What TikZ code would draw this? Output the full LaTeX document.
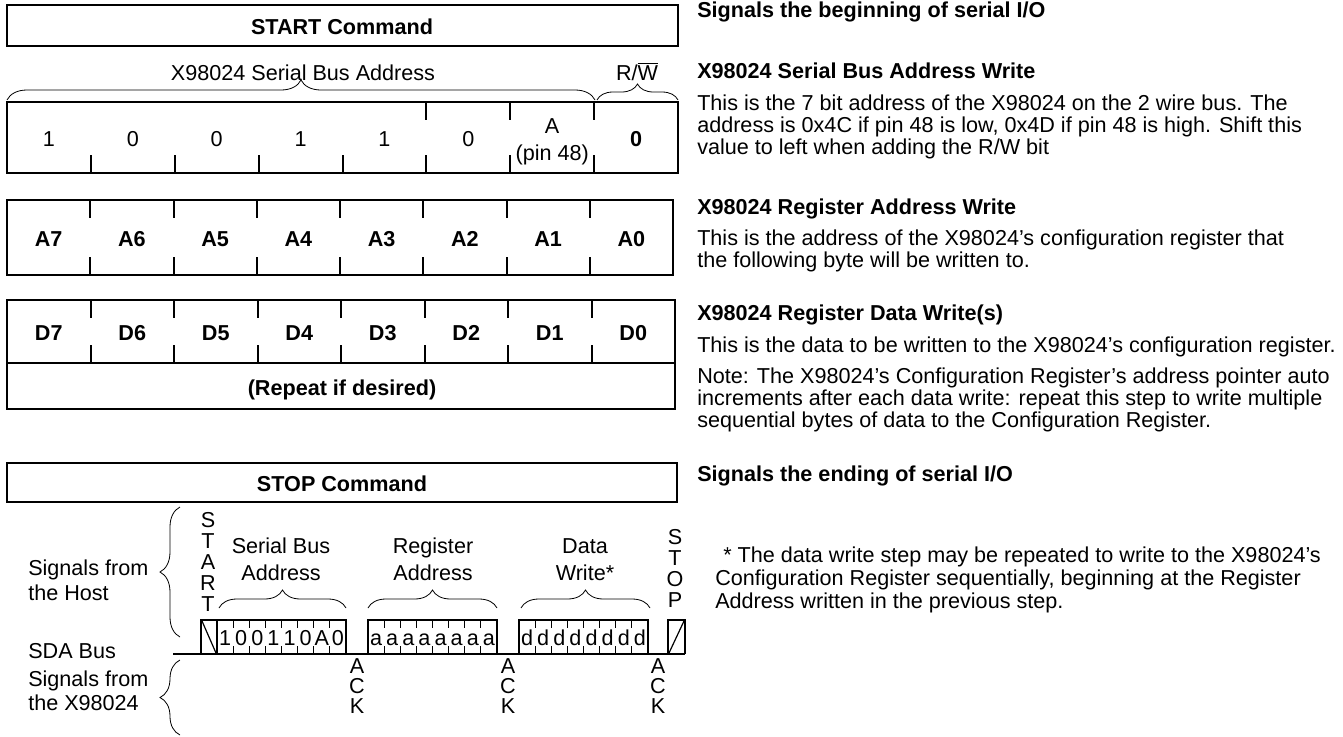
\documentclass[tikz,border=0pt]{standalone}
\usepackage{fontspec}
\setmainfont{Liberation Sans}
\usetikzlibrary{decorations.pathreplacing}
\newcommand{\fsz}{\fontsize{16.2}{16.5}\selectfont}
\begin{document}
\begin{tikzpicture}[x=0.75pt,y=-0.75pt,
  box/.style={line width=2.2pt},
  tk/.style={line width=1.5pt},
  stk/.style={line width=0.8pt},
  t/.style={font=\fsz, inner sep=0pt, anchor=base},
  tb/.style={font=\fsz\bfseries, inner sep=0pt, anchor=base},
  tl/.style={font=\fsz, inner sep=0pt, anchor=base west},
  tlb/.style={font=\fsz\bfseries, inner sep=0pt, anchor=base west},
  brc/.style={decorate, decoration={brace, amplitude=#1}, line width=0.6pt}]
\useasboundingbox (0,0) rectangle (1343,736);

% ---- START box
\draw[box] (7,5) rectangle (678,46);
\node[tb] (startcmd) at (342,34) {START Command};

% ---- address header
\node[t] (sbaddr) at (303,80) {X98024 Serial Bus Address};
\node[t] (rw) at (637,80) {R/$\overline{\mbox{W}}$};
\draw[brc=15pt] (7,100) -- (595,100);
\draw[brc=12pt] (597,100) -- (678,100);

% ---- bits box
\draw[box] (7,102) rectangle (678,173);
\foreach \i in {1,...,7} \draw[tk] ({7+83.875*\i},173) -- ++(0,-18);
\foreach \i in {5,6,7} \draw[tk] ({7+83.875*\i},102) -- ++(0,18);
\foreach \v [count=\i from 0] in {1,0,0,1,1,0}
  \node[t] (bit\i) at ({7+83.875*(\i+0.5)},146) {\v};
\node[t] (bitA) at ({7+83.875*6.5},133) {A};
\node[t] (pin) at ({7+83.875*6.5},160) {(pin 48)};
\node[tb] (bitrw) at ({7+83.875*7.5},146) {0};

% ---- register address box
\draw[box] (7,200) rectangle (673,275);
\foreach \i in {1,...,7} {
  \draw[tk] ({7+83.25*\i},200) -- ++(0,18);
  \draw[tk] ({7+83.25*\i},275) -- ++(0,-18);
}
\foreach \v [count=\i from 0] in {A7,A6,A5,A4,A3,A2,A1,A0}
  \node[tb] (ra\i) at ({7+83.25*(\i+0.5)},246) {\v};

% ---- data box
\draw[box] (7,300) rectangle (675,409);
\draw[box] (7,363) -- (675,363);
\foreach \i in {1,...,7} {
  \draw[tk] ({7+83.5*\i},300) -- ++(0,18);
  \draw[tk] ({7+83.5*\i},363) -- ++(0,-18);
}
\foreach \v [count=\i from 0] in {D7,D6,D5,D4,D3,D2,D1,D0}
  \node[tb] (rd\i) at ({7+83.5*(\i+0.5)},340) {\v};
\node[tb] (repeat) at (342,395) {(Repeat if desired)};

% ---- STOP box
\draw[box] (7,463) rectangle (677,502);
\node[tb] (stopcmd) at (342,491) {STOP Command};

% ---- right column
\node[tlb] (h1) at (697,17.5) {Signals the beginning of serial I/O};
\node[tlb] (h2) at (697,78) {X98024 Serial Bus Address Write};
\node[tl] (p2a) at (697,110) {This is the 7 bit address of the X98024 on the 2 wire bus. The};
\node[tl] (p2b) at (697,132) {address is 0x4C if pin 48 is low, 0x4D if pin 48 is high. Shift this};
\node[tl] (p2c) at (697,154) {value to left when adding the R/W bit};
\node[tlb] (h3) at (697,214) {X98024 Register Address Write};
\node[tl] (p3a) at (697,245) {This is the address of the X98024’s configuration register that};
\node[tl] (p3b) at (697,267) {the following byte will be written to.};
\node[tlb] (h4) at (697,320) {X98024 Register Data Write(s)};
\node[tl] (p4a) at (697,352) {This is the data to be written to the X98024’s configuration register.};
\node[tl] (p4b) at (697,383) {Note: The X98024’s Configuration Register’s address pointer auto};
\node[tl] (p4c) at (697,405) {increments after each data write: repeat this step to write multiple};
\node[tl] (p4d) at (697,427) {sequential bytes of data to the Configuration Register.};
\node[tlb] (h5) at (697,481) {Signals the ending of serial I/O};
\node[tl] (f1) at (723,562) {* The data write step may be repeated to write to the X98024’s};
\node[tl] (f2) at (715,585) {Configuration Register sequentially, beginning at the Register};
\node[tl] (f3) at (715,608) {Address written in the previous step.};

% ---- timing diagram: left labels
\node[tl] (host1) at (28,575) {Signals from};
\node[tl] (host2) at (28,600) {the Host};
\node[tl] (sda) at (28,658) {SDA Bus};
\node[tl] (dev1) at (28,686) {Signals from};
\node[tl] (dev2) at (28,710) {the X98024};
\draw[brc=15pt] (180,637) -- (180,507);
\draw[brc=15pt] (180,735) -- (180,660);

% START / STOP letters
\foreach \c [count=\i from 0] in {S,T,A,R,T}
  \node[t] (st\i) at (208,{527+21*\i}) {\c};
\foreach \c [count=\i from 0] in {S,T,O,P}
  \node[t] (sp\i) at (675,{544+21*\i}) {\c};

% bus line and boxes
\draw[box] (173,654) -- (685,654);
\draw[box] (201,654) -- (201,620) -- (217,620) -- (217,654);
\draw[line width=0.9pt] (202,621) -- (216,653);
\draw[box] (217,620) -- (346,620) -- (346,654);
\draw[box] (368,654) -- (368,620) -- (497,620) -- (497,654);
\draw[box] (519,654) -- (519,620) -- (648,620) -- (648,654);
\draw[box] (668,654) -- (668,620) -- (685,620) -- (685,654);
\draw[line width=0.9pt] (669,653) -- (684,621);

\foreach \x/\nm in {217/sa,368/ra,519/da} {
  \foreach \i in {1,...,7} {
    \draw[stk] ({\x+16.125*\i},620) -- ++(0,8);
    \draw[stk] ({\x+16.125*\i},654) -- ++(0,-8);
  }
}
\foreach \c [count=\i from 0] in {1,0,0,1,1,0,A,0}
  \node[t] (sab\i) at ({217+16.125*(\i+0.5)},645) {\c};
\foreach \i in {0,...,7} {
  \node[t] (rab\i) at ({368+16.125*(\i+0.5)},645) {a};
  \node[t] (dab\i) at ({519+16.125*(\i+0.5)},645) {d};
}

% labels and braces above
\node[t] (l1a) at (281,553) {Serial Bus};
\node[t] (l1b) at (281,580) {Address};
\node[t] (l2a) at (433,553) {Register};
\node[t] (l2b) at (433,580) {Address};
\node[t] (l3a) at (585,553) {Data};
\node[t] (l3b) at (585,580) {Write*};
\draw[brc=13.5pt] (219,608) -- (346,608);
\draw[brc=13.5pt] (368,608) -- (497,608);
\draw[brc=13.5pt] (521,608) -- (650,608);

% ACK letters
\foreach \x/\nm in {357/ka,508/kb,658/kc}
  \foreach \c [count=\i from 0] in {A,C,K}
    \node[t] (\nm\i) at (\x,{673+20*\i}) {\c};
\end{tikzpicture}
\end{document}
